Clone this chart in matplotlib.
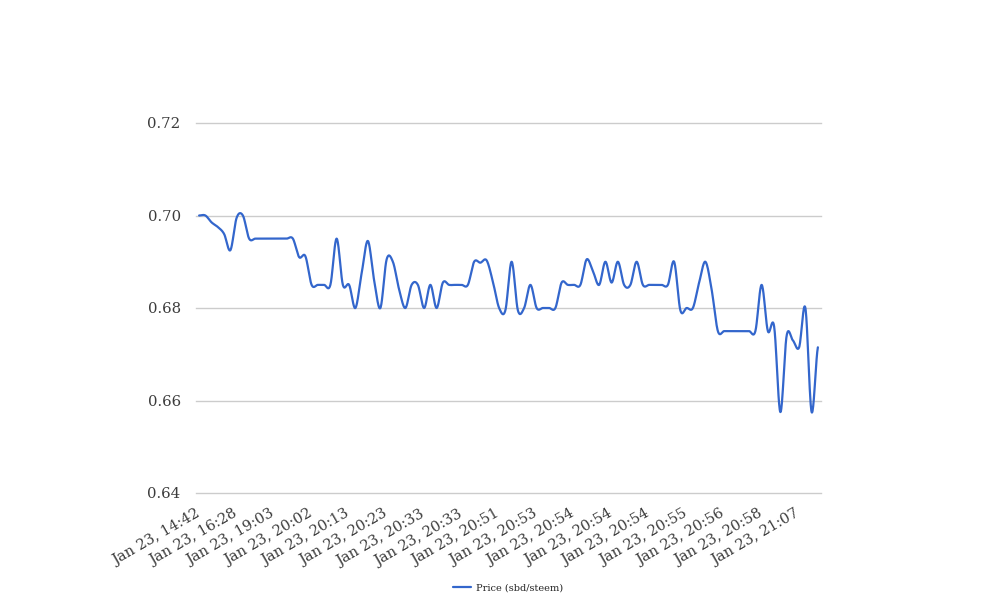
import numpy as np
import matplotlib
matplotlib.use('Agg')
import matplotlib.pyplot as plt
import matplotlib.transforms as mtrans

# Kurs SBD/STEEM, ein Wert pro Handel (100 Werte)
preis = [
    0.7000, 0.7000, 0.6985, 0.6975, 0.6960, 0.6925, 0.6995, 0.7000, 0.6950, 0.6950,
    0.6950, 0.6950, 0.6950, 0.6950, 0.6950, 0.6950, 0.6910, 0.6912, 0.6850, 0.6850,
    0.6850, 0.6850, 0.6950, 0.6850, 0.6850, 0.6800, 0.6875, 0.6945, 0.6860, 0.6800,
    0.6905, 0.6900, 0.6840, 0.6800, 0.6850, 0.6850, 0.6800, 0.6850, 0.6800, 0.6855,
    0.6850, 0.6850, 0.6850, 0.6850, 0.6900, 0.6898, 0.6903, 0.6857, 0.6800, 0.6795,
    0.6900, 0.6795, 0.6800, 0.6850, 0.6800, 0.6800, 0.6800, 0.6800, 0.6855, 0.6850,
    0.6850, 0.6850, 0.6905, 0.6880, 0.6850, 0.6900, 0.6855, 0.6900, 0.6850, 0.6850,
    0.6900, 0.6850, 0.6850, 0.6850, 0.6850, 0.6850, 0.6900, 0.6795, 0.6800, 0.6800,
    0.6855, 0.6900, 0.6840, 0.6750, 0.6750, 0.6750, 0.6750, 0.6750, 0.6750, 0.6750,
    0.6850, 0.6750, 0.6760, 0.6575, 0.6740, 0.6730, 0.6715, 0.6800, 0.6575, 0.6715,
]

# Beschriftung jeder 6. Wert
zeit_labels = [
    'Jan 23, 14:42', 'Jan 23, 16:28', 'Jan 23, 19:03', 'Jan 23, 20:02',
    'Jan 23, 20:13', 'Jan 23, 20:23', 'Jan 23, 20:33', 'Jan 23, 20:33',
    'Jan 23, 20:51', 'Jan 23, 20:53', 'Jan 23, 20:54', 'Jan 23, 20:54',
    'Jan 23, 20:54', 'Jan 23, 20:55', 'Jan 23, 20:56', 'Jan 23, 20:58',
    'Jan 23, 21:07',
]
label_schritt = 6

y_ticks = [0.64, 0.66, 0.68, 0.70, 0.72]


# geglättete Kurve (Catmull-Rom) nur fürs Zeichnen
def glatt(werte, n=20):
    p = np.concatenate([[werte[0]], werte, [werte[-1]]])
    xs, ys = [], []
    t = np.linspace(0, 1, n, endpoint=False)
    for i in range(len(werte) - 1):
        p0, p1, p2, p3 = p[i], p[i + 1], p[i + 2], p[i + 3]
        m1 = (p2 - p0) / 2
        m2 = (p3 - p1) / 2
        h00 = 2 * t**3 - 3 * t**2 + 1
        h10 = t**3 - 2 * t**2 + t
        h01 = -2 * t**3 + 3 * t**2
        h11 = t**3 - t**2
        ys.append(h00 * p1 + h10 * m1 + h01 * p2 + h11 * m2)
        xs.append(i + t)
    xs.append([len(werte) - 1])
    ys.append([werte[-1]])
    return np.concatenate(xs), np.concatenate(ys)


plt.rcParams['font.family'] = 'DejaVu Serif'

fig = plt.figure(figsize=(10.08, 6.16), dpi=100)
ax = fig.add_axes([196 / 1008, 1 - 493 / 616, 625 / 1008, 370 / 616])

x = np.arange(len(preis))
xs, ys = glatt(np.array(preis))
ax.plot(xs, ys, color='#3366cc', lw=1.6, label='Price (sbd/steem)',
        solid_capstyle='round', solid_joinstyle='round')

ax.set_xlim(-0.5, len(preis) - 0.5)
ax.set_ylim(0.64, 0.72)
ax.set_yticks(y_ticks)
ax.set_yticklabels(['%.2f' % v for v in y_ticks])
ax.yaxis.grid(True, color='#cccccc', lw=1)
ax.set_axisbelow(True)
for s in ax.spines.values():
    s.set_visible(False)

pos = x[::label_schritt][:len(zeit_labels)]
ax.set_xticks(pos)
ax.set_xticklabels(zeit_labels, rotation=30, ha='right', rotation_mode='anchor')
ax.tick_params(axis='x', length=0, pad=10, labelsize=10.5, labelcolor='#3c3c3c')
ax.tick_params(axis='y', length=0, pad=11, labelsize=10.7, labelcolor='#3c3c3c')

# Beschriftung etwas nach links schieben
versatz = mtrans.ScaledTranslation(-4 / 100, 0, fig.dpi_scale_trans)
for lab in ax.get_xticklabels():
    lab.set_transform(lab.get_transform() + versatz)

# Gitterlinien am Rand nicht abschneiden
for gl in ax.get_ygridlines():
    gl.set_clip_on(False)

ax.legend(loc='center', bbox_to_anchor=(508 / 1008, 1 - 588 / 616),
          bbox_transform=fig.transFigure, frameon=False, fontsize=7,
          handlelength=1.8, handletextpad=0.5, labelcolor='#222222')

fig.savefig('out.png', dpi=100, facecolor='white')
